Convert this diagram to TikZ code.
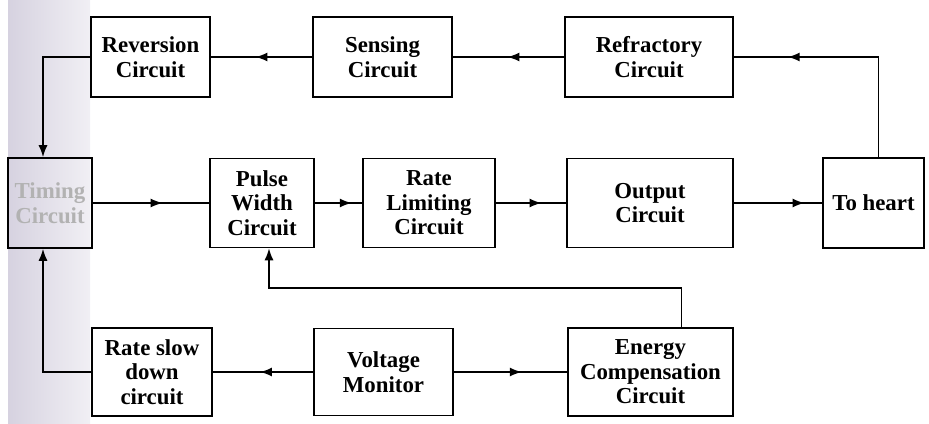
\documentclass[tikz,border=0pt]{standalone}
\usepackage{fontspec}
\setmainfont{Liberation Serif}
\usepackage{tikz}
\usetikzlibrary{arrows.meta, positioning, calc, decorations.markings}
\definecolor{scanshade}{RGB}{214,210,224}

\begin{document}
\begin{tikzpicture}[
  x=0.02cm, y=-0.02cm,
  blockbox/.style={draw, line width=0.9pt, align=center, inner sep=2pt,
    font=\fontsize{13}{14}\selectfont\bfseries},
  link/.style={line width=0.9pt},
  midarrow/.style={postaction={decorate}, decoration={markings,
    mark=at position #1 with {\arrow{Latex[length=2.4mm,width=1.8mm]}}}},
  endarrow/.style={-{Latex[length=2.4mm,width=1.8mm]}}
]
\useasboundingbox (0,0) rectangle (929,423);

% scanned shadow at the left edge
\fill[left color=scanshade, right color=scanshade!35] (8,0) rectangle (90,423);

% top row
\node[blockbox, minimum width=2.38cm, minimum height=1.6cm] (rev) at (150.5,57) {Reversion\\Circuit};
\node[blockbox, minimum width=2.78cm, minimum height=1.6cm] (sens) at (382.5,57) {Sensing\\Circuit};
\node[blockbox, minimum width=3.36cm, minimum height=1.6cm] (refr) at (649,57) {Refractory\\Circuit};

% middle row
\node[blockbox, text=black!30, minimum width=1.68cm, minimum height=1.8cm] (timing) at (50,203) {Timing\\Circuit};
\node[blockbox, minimum width=2.08cm, minimum height=1.78cm] (pulse) at (262,203) {Pulse\\Width\\Circuit};
\node[blockbox, minimum width=2.64cm, minimum height=1.78cm] (ratelim) at (429,203) {Rate\\Limiting\\Circuit};
\node[blockbox, minimum width=3.32cm, minimum height=1.78cm] (output) at (650,203) {Output\\Circuit};
\node[blockbox, minimum width=2.02cm, minimum height=1.8cm] (heart) at (873.5,203) {To heart};

% bottom row
\node[blockbox, minimum width=2.4cm, minimum height=1.76cm] (slow) at (152,372) {Rate slow\\down\\circuit};
\node[blockbox, minimum width=2.78cm, minimum height=1.74cm] (volt) at (383.5,372) {Voltage\\Monitor};
\node[blockbox, minimum width=3.3cm, minimum height=1.76cm] (energy) at (650.5,372) {Energy\\Compensation\\Circuit};

% feedback along the top
\draw[link, midarrow=0.78] ([xshift=0.1cm]heart.north) |- (refr.east);
\draw[link, midarrow=0.51] (refr.west) -- (sens.east);
\draw[link, midarrow=0.56] (sens.west) -- (rev.east);
\draw[link, endarrow] (rev.west) -| ([xshift=-0.14cm]timing.north);

% main pulse path
\draw[link, midarrow=0.6] (timing.east) -- (pulse.west);
\draw[link, midarrow=0.78] (pulse.east) -- (ratelim.west);
\draw[link, midarrow=0.65] (ratelim.east) -- (output.west);
\draw[link, midarrow=0.8] (output.east) -- (heart.west);

% monitoring path
\draw[link, midarrow=0.6] (volt.east) -- (energy.west);
\draw[link, midarrow=0.53] (volt.west) -- (slow.east);
\draw[link, endarrow] (slow.west) -| ([xshift=-0.14cm]timing.south);
\draw[link, endarrow] ([xshift=0.62cm]energy.north) -- ++(0,-39) -| ([xshift=0.14cm]pulse.south);

\end{tikzpicture}
\end{document}
